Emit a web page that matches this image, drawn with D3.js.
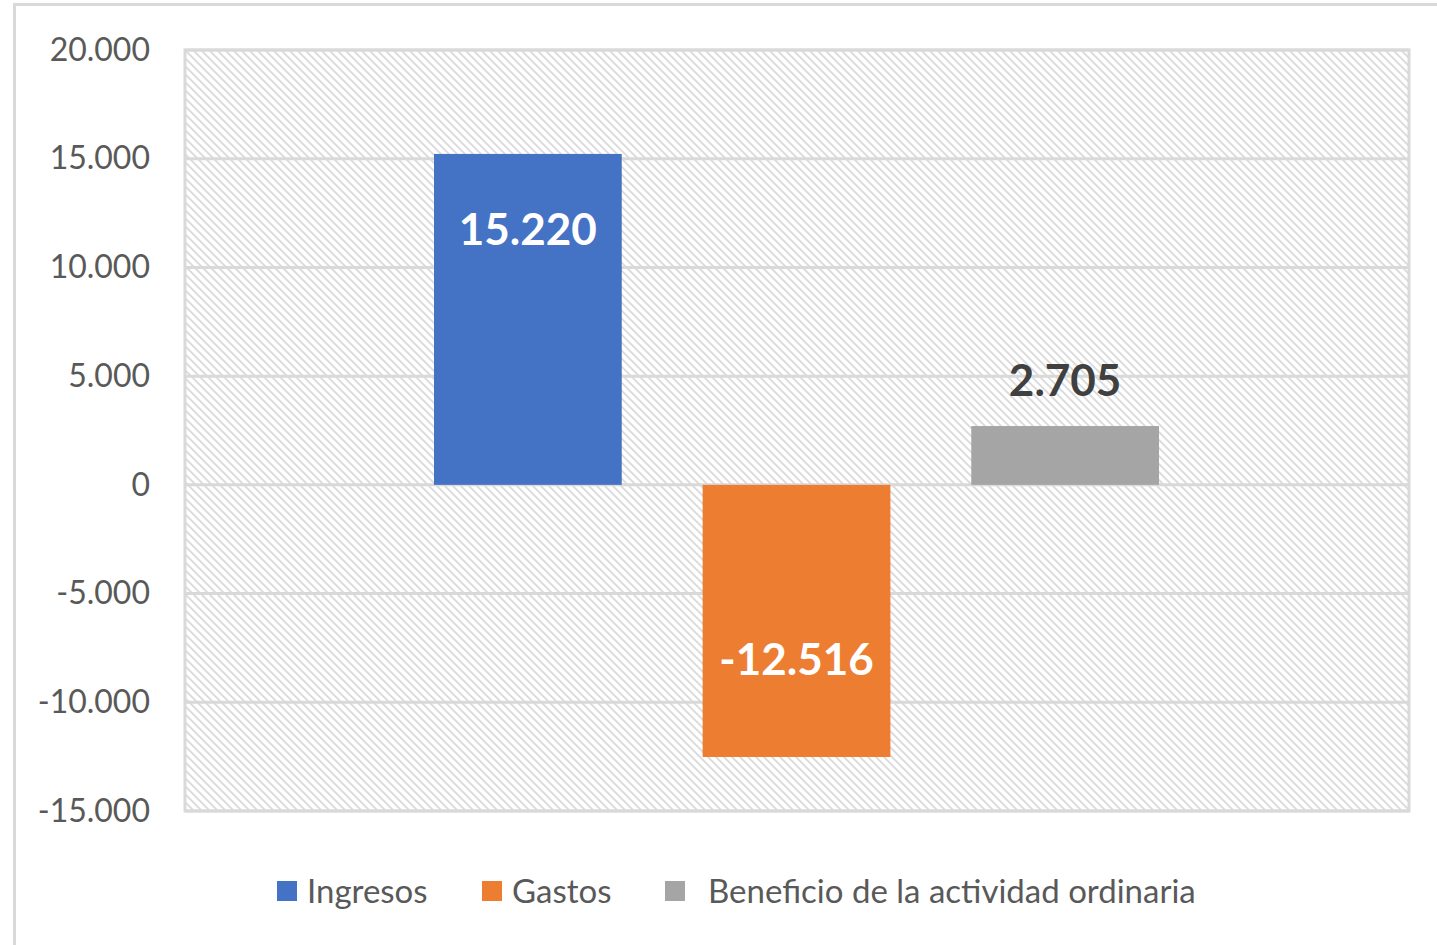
<!DOCTYPE html>
<html>
<head>
<meta charset="utf-8">
<script src="https://cdn.jsdelivr.net/npm/d3@7"></script>
<style>
	body { margin: 0; background: #fff; }
	svg { display: block; font-family: Lato, "Open Sans", sans-serif; }
</style>
</head>
<body>
<div id="chart"></div>
<script>
// chart data
let seriesNames = ["Ingresos", "Gastos", "Beneficio de la actividad ordinaria"];
let seriesValues = [15220, -12516, 2705];
let seriesColors = ["#4472c4", "#ed7d31", "#a5a5a5"];
let tickValues = [20000, 15000, 10000, 5000, 0, -5000, -10000, -15000];
let tickLabels = ["20.000", "15.000", "10.000", "5.000", "0", "-5.000", "-10.000", "-15.000"];
let valueLabels = ["15.220", "-12.516", "2.705"];

let W = 1437, H = 945;
let margin = { top: 50, right: 28, bottom: 134, left: 185 };
let width = W - margin.left - margin.right;
let height = H - margin.top - margin.bottom;

let svg = d3.select("#chart").append("svg")
	.attr("width", W)
	.attr("height", H);

//hatch pattern for plot background
let defs = svg.append("defs");
let pat = defs.append("pattern")
	.attr("id", "hatch")
	.attr("patternUnits", "userSpaceOnUse")
	.attr("width", 8)
	.attr("height", 8);
pat.append("rect").attr("width", 8).attr("height", 8).attr("fill", "#fff");
pat.append("path")
	.attr("d", "M-2,-2 L10,10 M-2,6 L2,10 M6,-2 L10,2")
	.attr("stroke", "#dadada")
	.attr("stroke-width", 1.8);

//outer chart frame
svg.append("rect")
	.attr("x", 14.5)
	.attr("y", 4.5)
	.attr("width", W + 20)
	.attr("height", H + 20)
	.attr("fill", "none")
	.attr("stroke", "#d9d9d9")
	.attr("stroke-width", 3);

let g = svg.append("g")
	.attr("transform", `translate(${margin.left}, ${margin.top})`);

let y = d3.scaleLinear().domain([-15000, 20000]).range([height, 0]);
let x = d3.scaleBand().domain(seriesNames).range([249, width - 250]).paddingInner(81 / 269).paddingOuter(0);

g.append("rect")
	.attr("width", width)
	.attr("height", height)
	.attr("fill", "url(#hatch)");

//gridlines
g.append("g")
	.selectAll("line")
	.data(tickValues)
	.enter()
	.append("line")
	.attr("x1", 0)
	.attr("x2", width)
	.attr("y1", d => y(d))
	.attr("y2", d => y(d))
	.attr("stroke", "#d9d9d9")
	.attr("stroke-width", 3);

g.append("rect")
	.attr("width", width)
	.attr("height", height)
	.attr("fill", "none")
	.attr("stroke", "#d9d9d9")
	.attr("stroke-width", 3);

//y axis labels
let yAxis = d3.axisLeft(y)
	.tickValues(tickValues)
	.tickFormat((d, i) => tickLabels[i])
	.tickSize(0)
	.tickPadding(35);
let ya = g.append("g").call(yAxis);
ya.select(".domain").remove();
ya.selectAll("text")
	.attr("fill", "#595959")
	.style("font-size", "32px")
	.style("font-family", "Lato, sans-serif");

//bars
g.selectAll(".bar")
	.data(seriesValues)
	.enter()
	.append("rect")
	.attr("class", "bar")
	.attr("x", (d, i) => x(seriesNames[i]))
	.attr("width", x.bandwidth())
	.attr("y", d => y(Math.max(0, d)))
	.attr("height", d => Math.abs(y(d) - y(0)))
	.attr("fill", (d, i) => seriesColors[i]);

//value labels
let labelY = function(d, i) {
	if (i === 0) return y(d) + 91;
	if (i === 1) return y(d) - 82;
	return y(d) - 30;
};
g.selectAll(".vlabel")
	.data(seriesValues)
	.enter()
	.append("text")
	.attr("class", "vlabel")
	.attr("x", (d, i) => x(seriesNames[i]) + x.bandwidth() / 2)
	.attr("y", labelY)
	.attr("text-anchor", "middle")
	.attr("fill", (d, i) => i === 2 ? "#404040" : "#ffffff")
	.style("font-size", "44px")
	.style("font-weight", "bold")
	.text((d, i) => valueLabels[i]);

//legend
let legendX = [277, 482, 665];
let legendTextX = [307, 512, 708];
let lg = svg.append("g");
lg.selectAll("rect")
	.data(seriesNames)
	.enter()
	.append("rect")
	.attr("x", (d, i) => legendX[i])
	.attr("y", 881)
	.attr("width", 20)
	.attr("height", 20)
	.attr("fill", (d, i) => seriesColors[i]);
lg.selectAll("text")
	.data(seriesNames)
	.enter()
	.append("text")
	.attr("x", (d, i) => legendTextX[i])
	.attr("y", 891)
	.attr("dy", "0.35em")
	.attr("fill", "#595959")
	.style("font-size", "33px")
	.text(d => d);
</script>
</body>
</html>
